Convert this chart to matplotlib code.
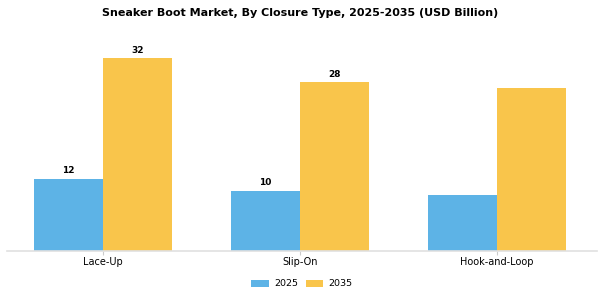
import matplotlib
matplotlib.use("Agg")
import matplotlib.pyplot as plt
import numpy as np

categories = ["Lace-Up", "Slip-On", "Hook-and-Loop"]
years = ["2025", "2035"]
values_2025 = [12, 10, 9.3]
values_2035 = [32, 28, 27]
labels_2025 = ["12", "10", ""]
labels_2035 = ["32", "28", ""]
colors = ["#5DB3E6", "#F9C54B"]

fig = plt.figure(figsize=(6, 3), dpi=100)
ax = fig.add_axes([0.0117, 0.163, 0.9833, 0.724])

x = np.arange(len(categories))
w = 0.35
b1 = ax.bar(x - w / 2, values_2025, w, color=colors[0], label=years[0])
b2 = ax.bar(x + w / 2, values_2035, w, color=colors[1], label=years[1])

for bars, labs in ((b1, labels_2025), (b2, labels_2035)):
    for rect, lab in zip(bars, labs):
        if lab:
            ax.annotate(lab, (rect.get_x() + rect.get_width() / 2, rect.get_height()),
                        xytext=(0, 2.5), textcoords="offset points",
                        ha="center", va="bottom", fontsize=6.5, fontweight="bold")

ax.set_xlim(-0.487, 2.508)
ax.set_ylim(0, 36)
ax.set_xticks(x)
ax.set_xticklabels(categories, fontsize=7)
ax.tick_params(axis="x", length=3, color="#cccccc", pad=1.5)
ax.set_yticks([])
for s in ["top", "right", "left"]:
    ax.spines[s].set_visible(False)
ax.spines["bottom"].set_color("#e0e0e0")
ax.spines["bottom"].set_linewidth(1.2)

fig.suptitle("Sneaker Boot Market, By Closure Type, 2025-2035 (USD Billion)",
             fontsize=8.0, fontweight="bold", y=0.975)
fig.legend(loc="center", ncol=2, frameon=False, fontsize=6.8,
           bbox_to_anchor=(0.503, 16 / 300), handlelength=1.9, handleheight=0.75,
           handletextpad=0.5, columnspacing=0.8)

fig.savefig("out.png", dpi=100)
